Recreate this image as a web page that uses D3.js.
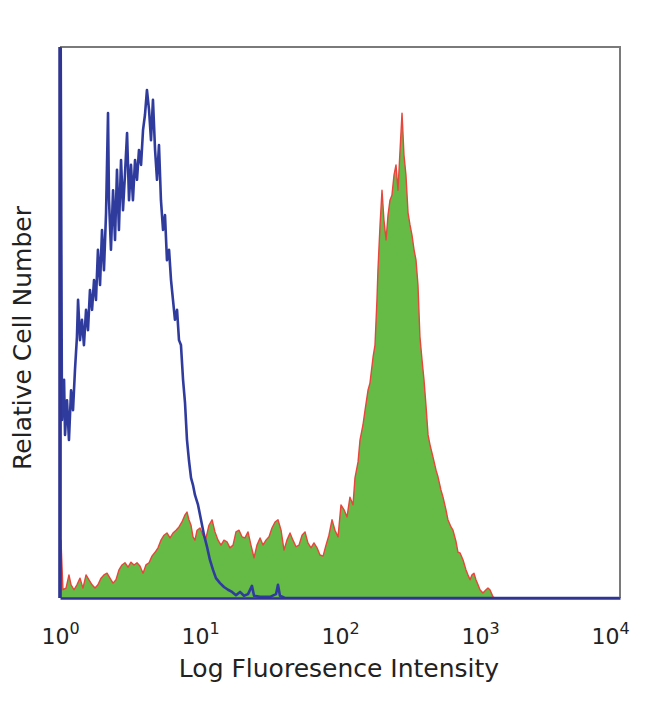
<!DOCTYPE html>
<html><head><meta charset="utf-8">
<script src="https://cdn.jsdelivr.net/npm/d3@7"></script>
<style>html,body{margin:0;padding:0;background:#fff;}</style>
</head><body>
<svg id="chart" width="650" height="704"></svg>
<script>
// x = log10(fluorescence intensity), y = relative cell count (0-100)
const tickExponents = [0, 1, 2, 3, 4];
const xTitle = "Log Fluoresence Intensity";
const yTitle = "Relative Cell Number";

const isotypeControl = [
[0.000,0],[0.004,108],[0.014,32.3],[0.029,39.6],[0.036,29.6],[0.050,35.9],[0.064,28.7],[0.079,37.7],
[0.093,34.1],[0.107,41.4],[0.121,47.4],[0.129,54.1],[0.143,46.8],[0.157,50.5],[0.171,45.9],[0.186,52.3],
[0.200,48.6],[0.214,55.9],[0.229,52.3],[0.243,57.7],[0.257,54.1],[0.271,63.2],[0.286,56.8],[0.300,66.8],
[0.314,59.5],[0.329,69.9],[0.343,88.0],[0.350,72.2],[0.364,63.2],[0.379,74.0],[0.393,65.0],[0.407,77.7],
[0.421,66.8],[0.436,79.5],[0.450,70.4],[0.464,76.8],[0.479,84.4],[0.493,72.2],[0.507,78.6],[0.521,72.2],
[0.536,79.5],[0.550,75.9],[0.564,81.3],[0.579,78.6],[0.593,84.9],[0.607,87.7],[0.621,92.2],[0.636,88.6],
[0.650,83.1],[0.664,90.4],[0.679,81.3],[0.693,75.9],[0.707,82.2],[0.721,72.2],[0.736,66.8],[0.750,69.5],
[0.764,61.3],[0.779,63.2],[0.793,57.7],[0.807,54.1],[0.821,50.5],[0.836,52.3],[0.850,46.8],[0.864,45.9],
[0.879,39.6],[0.893,35.4],[0.907,28.7],[0.921,25.0],[0.936,21.8],[0.950,20.5],[0.964,18.7],[0.986,16.9],
[1.007,14.2],[1.029,11.4],[1.050,9.3],[1.071,6.9],[1.093,5.1],[1.114,3.6],[1.143,2.7],[1.171,2.0],
[1.200,1.5],[1.229,1.1],[1.257,0.5],[1.286,1.1],[1.314,0.4],[1.343,0.7],[1.371,2.2],[1.386,0.4],
[1.429,0.2],[1.500,0.2],[1.543,0.7],[1.557,2.4],[1.571,0.4],[1.607,0],[4.000,0]
];

const stained = [
[0.000,0],[0.007,10.5],[0.021,1.5],[0.043,1.8],[0.064,4.2],[0.079,2.4],[0.100,1.5],[0.121,2.4],
[0.143,3.6],[0.164,1.8],[0.186,4.2],[0.207,3.3],[0.229,2.4],[0.250,1.8],[0.271,2.4],[0.293,3.6],
[0.314,4.2],[0.336,4.5],[0.357,3.6],[0.379,2.7],[0.400,3.3],[0.421,5.1],[0.443,6.0],[0.464,6.4],
[0.486,5.6],[0.507,6.5],[0.529,6.0],[0.550,6.4],[0.571,5.8],[0.593,4.5],[0.614,6.0],[0.636,6.4],
[0.657,7.6],[0.679,8.3],[0.700,9.1],[0.721,10.5],[0.743,11.4],[0.764,11.8],[0.786,10.9],[0.807,11.8],
[0.829,12.3],[0.850,12.9],[0.871,13.8],[0.893,15.1],[0.907,15.6],[0.921,14.2],[0.936,13.2],[0.950,11.1],
[0.964,10.5],[0.979,12.3],[1.000,12.7],[1.021,11.4],[1.043,10.9],[1.064,13.2],[1.086,14.2],[1.107,12.0],
[1.129,10.5],[1.150,9.6],[1.171,10.5],[1.193,10.2],[1.214,9.1],[1.236,9.6],[1.257,12.0],[1.279,12.3],
[1.300,11.1],[1.321,10.9],[1.343,12.0],[1.364,9.6],[1.386,7.3],[1.407,9.6],[1.429,10.9],[1.450,9.6],
[1.471,10.5],[1.493,11.1],[1.514,12.7],[1.536,13.8],[1.557,14.2],[1.579,12.3],[1.600,8.7],[1.621,10.5],
[1.643,11.8],[1.664,10.5],[1.686,9.3],[1.707,9.6],[1.729,11.4],[1.750,12.0],[1.771,10.0],[1.793,9.1],
[1.814,10.0],[1.836,9.1],[1.857,7.8],[1.879,7.6],[1.900,9.6],[1.921,11.4],[1.943,14.2],[1.964,12.3],
[1.986,11.1],[2.007,16.9],[2.029,16.0],[2.050,14.7],[2.071,18.3],[2.093,16.9],[2.107,21.8],[2.129,24.7],
[2.143,28.7],[2.164,31.4],[2.179,34.1],[2.200,37.7],[2.214,39.0],[2.236,43.7],[2.250,45.9],[2.264,54.1],
[2.271,59.5],[2.286,67.7],[2.300,74.0],[2.314,68.6],[2.329,65.0],[2.343,69.5],[2.357,72.2],[2.371,73.1],
[2.386,76.8],[2.400,78.6],[2.414,74.0],[2.429,81.3],[2.443,88.0],[2.457,80.4],[2.471,76.8],[2.486,69.9],
[2.500,67.7],[2.514,65.9],[2.529,63.2],[2.543,61.3],[2.557,56.8],[2.571,47.4],[2.586,43.2],[2.600,39.6],
[2.614,35.0],[2.629,29.6],[2.643,27.8],[2.664,25.6],[2.686,23.2],[2.700,22.0],[2.721,19.6],[2.736,18.3],
[2.757,16.0],[2.771,14.2],[2.793,12.9],[2.807,12.3],[2.829,10.2],[2.843,8.3],[2.857,8.2],[2.879,6.9],
[2.900,5.1],[2.914,4.2],[2.929,3.3],[2.943,4.2],[2.957,4.5],[2.971,3.3],[2.986,2.4],[3.000,1.5],
[3.021,0.9],[3.043,1.5],[3.057,1.8],[3.071,1.5],[3.093,0.2],[3.107,0]
];

const svg = d3.select("#chart");
const mLeft = 60, mRight = 620, mTop = 47, mBottom = 598;

const x = d3.scaleLog().domain([1, 1e4]).range([mLeft, mRight]);
const y = d3.scaleLinear().domain([0, 100]).range([mBottom, mTop]);
const px = d => x(Math.pow(10, d[0]));

svg.append("clipPath").attr("id", "clip")
  .append("rect").attr("x", mLeft - 3).attr("y", mTop).attr("width", mRight - mLeft + 3).attr("height", mBottom - mTop);

const plot = svg.append("g").attr("clip-path", "url(#clip)");

plot.append("path").datum(stained)
  .attr("fill", "#66bb46")
  .attr("d", d3.area().x(px).y0(y(0)).y1(d => y(d[1])));

plot.append("path").datum(stained)
  .attr("fill", "none").attr("stroke", "#e8453c").attr("stroke-width", 1.4).attr("stroke-linejoin", "round")
  .attr("d", d3.line().x(px).y(d => y(d[1])));

// frame (top/right gray)
svg.append("path")
  .attr("d", `M${mLeft},${mTop}H${mRight}V${mBottom}`)
  .attr("fill", "none").attr("stroke", "#7a7a7a").attr("stroke-width", 2);

plot.append("path").datum(isotypeControl)
  .attr("fill", "none").attr("stroke", "#2f3c9e").attr("stroke-width", 2.6).attr("stroke-linejoin", "round")
  .attr("d", d3.line().x(px).y(d => y(d[1])));

// left edge
svg.append("line").attr("x1", mLeft).attr("x2", mLeft).attr("y1", mTop).attr("y2", mBottom)
  .attr("stroke", "#2f3590").attr("stroke-width", 3.5);

const xAxis = d3.axisBottom(x)
  .tickValues(tickExponents.map(e => Math.pow(10, e)))
  .tickSize(0).tickPadding(0)
  .tickFormat("");
const gx = svg.append("g").attr("transform", `translate(0,${mBottom})`).call(xAxis);
gx.select(".domain").attr("stroke", "#2f3590").attr("stroke-width", 2.5);

gx.selectAll(".tick").each(function(d, i) {
  const t = d3.select(this).append("text")
    .attr("x", i === tickExponents.length - 1 ? -10 : 0)
    .attr("y", 46).attr("text-anchor", "middle")
    .attr("fill", "#222").attr("font-family", "DejaVu Sans").attr("font-size", 22);
  t.append("tspan").text("10");
  t.append("tspan").attr("dy", -10).attr("font-size", 16).text(tickExponents[i]);
});

svg.append("text").attr("x", 339).attr("y", 677).attr("text-anchor", "middle")
  .attr("font-family", "DejaVu Sans").attr("font-size", 25).attr("fill", "#222").text(xTitle);

svg.append("text").attr("transform", "translate(31,338) rotate(-90)").attr("text-anchor", "middle")
  .attr("font-family", "DejaVu Sans").attr("font-size", 25).attr("fill", "#222").text(yTitle);
</script>
</body></html>
